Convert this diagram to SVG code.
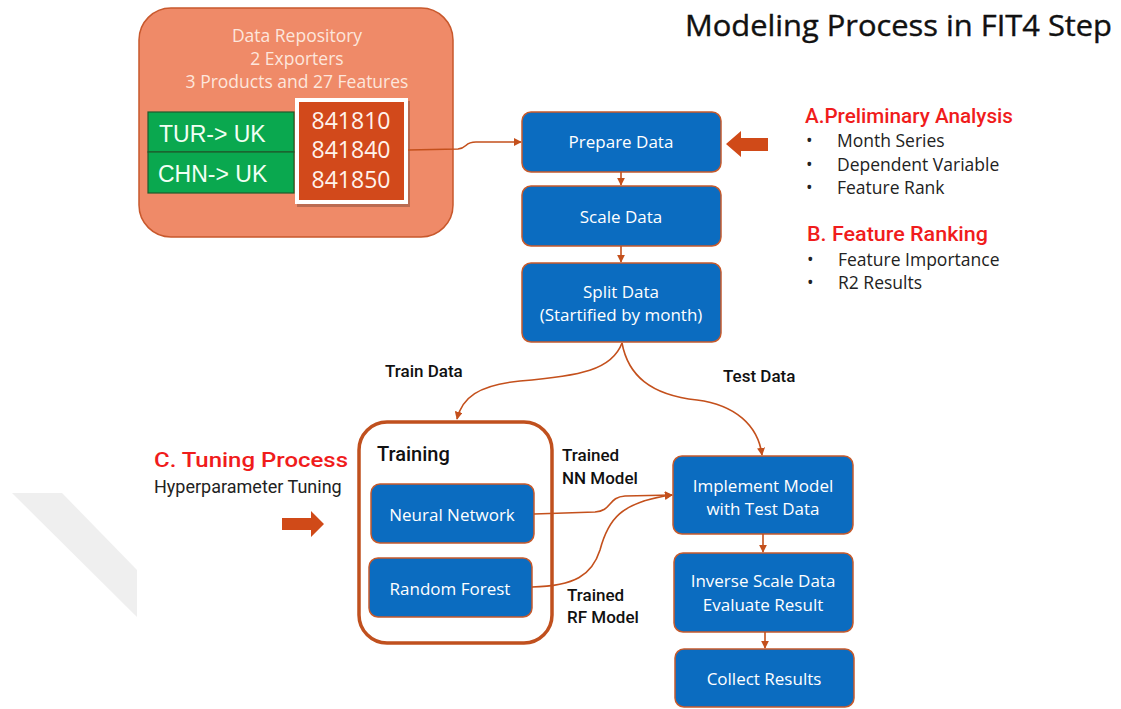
<svg xmlns="http://www.w3.org/2000/svg" width="1121" height="709" viewBox="0 0 1121 709">
  <style>
    .step rect { fill: #0b6cc0; stroke: #c65a2c; stroke-width: 1.5; }
    .step text { fill: #ffffff; font-family: "Open Sans", "Liberation Sans", sans-serif; font-size: 17px; text-anchor: middle; }
    .conn { fill: none; stroke: #c4501c; stroke-width: 1.6; marker-end: url(#ah); }
    .lbl { font-family: Roboto, "Liberation Sans", sans-serif; font-size: 17px; font-weight: 500; fill: #111111; }
    .head { font-family: Roboto, "Liberation Sans", sans-serif; font-size: 21px; font-weight: 500; fill: #f01c1c; }
    .bul { font-family: "Open Sans", "Liberation Sans", sans-serif; font-size: 17.5px; fill: #222222; }
    .block { fill: #d04a18; }
    .repo-t { font-family: "Open Sans", "Liberation Sans", sans-serif; font-size: 17.5px; fill: #fde6dc; text-anchor: middle; }
    .route rect { fill: #0aa84f; stroke: #1e5a2c; stroke-width: 1.2; }
    .route text { font-family: "Liberation Sans", Arial, sans-serif; font-size: 23px; fill: #f2fff4; }
    .codes text { font-family: "Open Sans", "Liberation Sans", sans-serif; font-size: 23px; fill: #fff3ec; text-anchor: middle; }
  </style>
  <defs>
    <marker id="ah" viewBox="0 0 10 10" refX="9" refY="5" markerWidth="8" markerHeight="8" markerUnits="userSpaceOnUse" orient="auto">
      <path d="M0,0 L10,5 L0,10 z" fill="#c4501c"/>
    </marker>
  </defs>

  <rect width="1121" height="709" fill="#ffffff"/>

  <!-- faint diagonal band at the left -->
  <polygon points="12,493 62,493 137,570 137,617" fill="#efefef"/>

  <!-- title -->
  <text x="685" y="36" font-family="'Open Sans', 'Liberation Sans', sans-serif" font-size="30" fill="#111111" stroke="#111111" stroke-width="0.4" textLength="427" lengthAdjust="spacingAndGlyphs">Modeling Process in FIT4 Step</text>

  <!-- data repository -->
  <g id="repository">
    <rect x="139" y="8" width="314" height="229" rx="32" fill="#ef8a68" stroke="#c8582c" stroke-width="1.5"/>
    <text class="repo-t" x="297" y="42">Data Repository</text>
    <text class="repo-t" x="297" y="65">2 Exporters</text>
    <text class="repo-t" x="297" y="88">3 Products and 27 Features</text>
    <g class="route" id="tur-uk">
      <rect x="148" y="112" width="146" height="40"/>
      <text x="159" y="142">TUR-&gt; UK</text>
    </g>
    <g class="route" id="chn-uk">
      <rect x="148" y="152" width="146" height="41"/>
      <text x="158" y="182">CHN-&gt; UK</text>
    </g>
    <g class="codes" id="codes">
      <rect x="297" y="101" width="113" height="106" fill="#000000" opacity="0.22"/>
      <rect x="295" y="98" width="113" height="106" fill="#ffffff"/>
      <rect x="299" y="102" width="105" height="98" fill="#d2491b"/>
      <text x="351" y="129">841810</text>
      <text x="351" y="158">841840</text>
      <text x="351" y="188">841850</text>
    </g>
  </g>

  <!-- process steps -->
  <g id="prepare" class="step">
    <rect x="522" y="112" width="199" height="60" rx="9"/>
    <text x="621" y="148">Prepare Data</text>
  </g>
  <g id="scale" class="step">
    <rect x="522" y="186" width="199" height="60" rx="9"/>
    <text x="621" y="223">Scale Data</text>
  </g>
  <g id="split" class="step">
    <rect x="522" y="263" width="199" height="79" rx="9"/>
    <text x="621" y="298">Split Data</text>
    <text x="621" y="321">(Startified by month)</text>
  </g>

  <!-- training container -->
  <g id="training">
    <rect x="359" y="422" width="193" height="221" rx="28" fill="#ffffff" stroke="#c0501e" stroke-width="3.5"/>
    <text x="377" y="461" font-family="Roboto, 'Liberation Sans', sans-serif" font-size="20" font-weight="500" fill="#111111">Training</text>
  </g>
  <g id="neural-network" class="step">
    <rect x="371" y="484" width="163" height="59" rx="9"/>
    <text x="452" y="521">Neural Network</text>
  </g>
  <g id="random-forest" class="step">
    <rect x="369" y="558" width="163" height="59" rx="9"/>
    <text x="450" y="595">Random Forest</text>
  </g>

  <g id="implement" class="step">
    <rect x="673" y="456" width="180" height="78" rx="9"/>
    <text x="763" y="492">Implement Model</text>
    <text x="763" y="515">with Test Data</text>
  </g>
  <g id="inverse" class="step">
    <rect x="674" y="553" width="179" height="79" rx="9"/>
    <text x="763" y="587">Inverse Scale Data</text>
    <text x="763" y="611">Evaluate Result</text>
  </g>
  <g id="collect" class="step">
    <rect x="675" y="649" width="179" height="58" rx="9"/>
    <text x="764" y="685">Collect Results</text>
  </g>

  <!-- connectors -->
  <g id="connectors">
    <path class="conn" d="M408,150 L458,149 C468,148 464,142 476,142 L521,142"/>
    <path class="conn" d="M621,172 L621,185"/>
    <path class="conn" d="M621,246 L621,262"/>
    <path class="conn" d="M622,343 C612,370 580,376 520,381 C478,385 462,398 457,419"/>
    <path class="conn" d="M622,343 C628,375 650,395 697,400 C735,405 758,425 762,455"/>
    <path class="conn" d="M534,514 L595,512 C612,511 608,497 625,496 L672,495"/>
    <path class="conn" d="M532,587 C575,586 592,575 600,550 C608,520 620,502 672,495"/>
    <path class="conn" d="M763,534 L763,552"/>
    <path class="conn" d="M765,632 L765,648"/>
  </g>

  <!-- block arrows -->
  <polygon class="block" points="726,144 741,131 741,138 768,138 768,151 741,151 741,157"/>
  <polygon class="block" points="282,518 311,518 311,511 324,524 311,537 311,530 282,530"/>

  <!-- connector labels -->
  <text class="lbl" x="385" y="377">Train Data</text>
  <text class="lbl" x="723" y="382">Test Data</text>
  <text class="lbl" x="562" y="461">Trained</text>
  <text class="lbl" x="562" y="484">NN Model</text>
  <text class="lbl" x="567" y="601">Trained</text>
  <text class="lbl" x="567" y="623">RF Model</text>

  <!-- side notes -->
  <text class="head" x="805" y="123" textLength="208" lengthAdjust="spacingAndGlyphs">A.Preliminary Analysis</text>
  <text class="bul" x="806" y="147">•</text>
  <text class="bul" x="837" y="147">Month Series</text>
  <text class="bul" x="806" y="171">•</text>
  <text class="bul" x="837" y="171">Dependent Variable</text>
  <text class="bul" x="806" y="194">•</text>
  <text class="bul" x="837" y="194">Feature Rank</text>

  <text class="head" x="807" y="241" textLength="181" lengthAdjust="spacingAndGlyphs">B. Feature Ranking</text>
  <text class="bul" x="807" y="266">•</text>
  <text class="bul" x="838" y="266">Feature Importance</text>
  <text class="bul" x="807" y="289">•</text>
  <text class="bul" x="838" y="289">R2 Results</text>

  <text class="head" x="154" y="467" textLength="194" lengthAdjust="spacingAndGlyphs">C. Tuning  Process</text>
  <text x="154" y="493" font-family="Roboto, 'Liberation Sans', sans-serif" font-size="18" fill="#222222">Hyperparameter Tuning</text>
</svg>
